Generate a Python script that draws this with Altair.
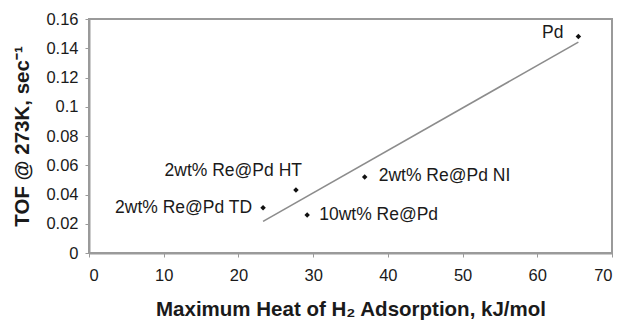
import altair as alt
import pandas as pd

labels = ["Pd", "2wt% Re@Pd HT", "2wt% Re@Pd TD", "10wt% Re@Pd", "2wt% Re@Pd NI"]
heat = [65.5, 27.7, 23.3, 29.2, 36.9]
tof = [0.148, 0.043, 0.031, 0.026, 0.052]
x_ticks = [0, 10, 20, 30, 40, 50, 60, 70]
y_ticks = [0, 0.02, 0.04, 0.06, 0.08, 0.10, 0.12, 0.14, 0.16]

df = pd.DataFrame({"label": labels, "heat": heat, "tof": tof})

FONT = "Liberation Sans"
xs = alt.Scale(domain=[0, 70], nice=False, zero=False)
ys = alt.Scale(domain=[0, 0.16], nice=False)

x_enc = alt.X("heat:Q", scale=xs, axis=alt.Axis(
    values=x_ticks, title="Maximum Heat of H\u2082 Adsorption, kJ/mol",
    grid=False, tickSize=4, labelPadding=10, titlePadding=16,
    domainColor="#9a9a9a", tickColor="#9a9a9a", domainWidth=2,
    labelFont=FONT, labelFontSize=16.5, labelColor="#1a1a1a",
    titleFont=FONT, titleFontSize=20.5, titleFontWeight="bold", titleColor="#1a1a1a"))
y_enc = alt.Y("tof:Q", scale=ys, axis=alt.Axis(
    values=y_ticks, format=".2~f", title="TOF @ 273K, sec\u207b\u00b9",
    grid=False, tickSize=4, labelPadding=7, titlePadding=13,
    domainColor="#9a9a9a", tickColor="#9a9a9a", domainWidth=2,
    labelFont=FONT, labelFontSize=16.5, labelColor="#1a1a1a",
    titleFont=FONT, titleFontSize=20.5, titleFontWeight="bold", titleColor="#1a1a1a"))

base = alt.Chart(df)

trend = base.transform_regression("heat", "tof").mark_line(
    color="#8c8c8c", strokeWidth=1.6).encode(x=x_enc, y=y_enc)

pts = base.mark_point(shape="diamond", filled=True, color="#111111", size=30,
                      opacity=1).encode(x=x_enc, y=y_enc)

def txt(names, align, dx, dy):
    return base.transform_filter(
        alt.FieldOneOfPredicate(field="label", oneOf=names)
    ).mark_text(align=align, baseline="middle", dx=dx, dy=dy, font=FONT,
                fontSize=17.5, color="#1a1a1a").encode(x=x_enc, y=y_enc, text="label:N")

t_pd = txt(["Pd"], "right", -15, -4)
t_td = txt(["2wt% Re@Pd TD"], "right", -11, 0)
t_ht = txt(["2wt% Re@Pd HT"], "right", 6, -19)
t_ni = txt(["2wt% Re@Pd NI"], "left", 14, -1)
t_10 = txt(["10wt% Re@Pd"], "left", 12, 0)

chart = alt.layer(trend, pts, t_pd, t_td, t_ht, t_ni, t_10).properties(
    width=523, height=234,
    autosize=alt.AutoSizeParams(type="none"),
    padding={"left": 81, "top": 11, "right": 8, "bottom": 68},
    background="white",
).configure_view(stroke="#9a9a9a", strokeWidth=2)

chart.save("out.html", embed_options={"renderer": "svg", "actions": False})
